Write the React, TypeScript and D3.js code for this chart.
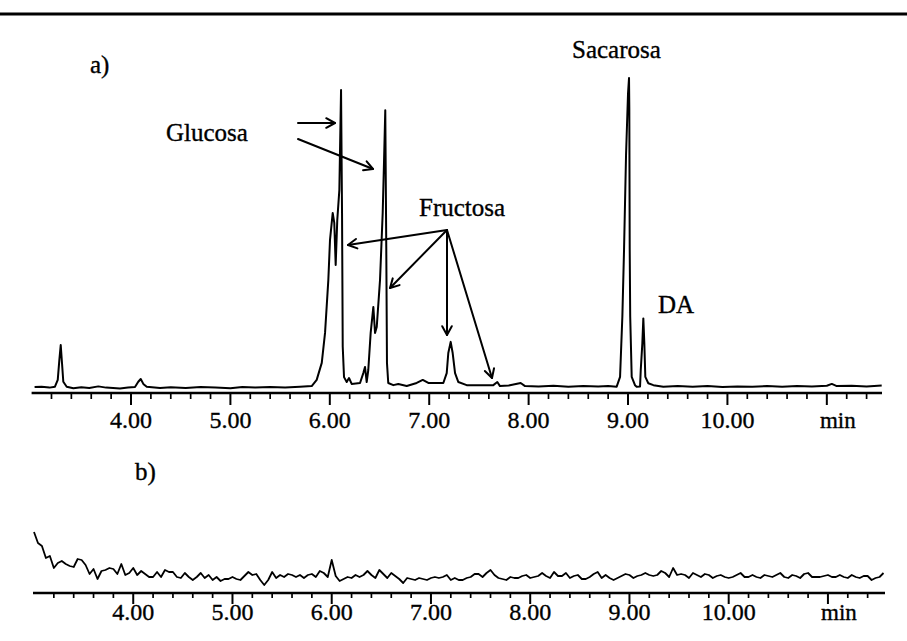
import React from "react";
import * as d3 from "d3";

// ---------- axis ticks ----------
const majorTicks = [4, 5, 6, 7, 8, 9, 10, 11];
const majorLabels = ["4.00", "5.00", "6.00", "7.00", "8.00", "9.00", "10.00", "min"];
const minorTicks = [3.2, 3.4, 3.6, 3.8, 4.2, 4.4, 4.6, 4.8, 5.2, 5.4, 5.6, 5.8, 6.2, 6.4, 6.6, 6.8, 7.2, 7.4, 7.6, 7.8, 8.2, 8.4, 8.6, 8.8, 9.2, 9.4, 9.6, 9.8, 10.2, 10.4, 10.6, 10.8, 11.2, 11.4];

// ---------- chromatogram a) : retention time (min) / signal (% of Sacarosa peak) ----------
const traceATime = [
  3.03, 3.10, 3.18, 3.235, 3.263, 3.279, 3.293, 3.306, 3.319, 3.353, 3.42, 3.50, 3.58, 3.671, 3.75, 3.889, 3.97,
  4.040, 4.073, 4.098, 4.124, 4.158, 4.292, 4.40, 4.55, 4.70, 4.85, 5.00, 5.12, 5.25, 5.40, 5.55, 5.70,
  5.818, 5.868, 5.919, 5.952, 5.985, 6.002, 6.029, 6.045, 6.059, 6.075, 6.096, 6.113, 6.123, 6.130, 6.143,
  6.170, 6.193, 6.220, 6.304, 6.337, 6.354, 6.371, 6.387, 6.411, 6.438, 6.455, 6.472, 6.505, 6.532, 6.545,
  6.558, 6.568, 6.575, 6.588, 6.639, 6.689, 6.774, 6.874, 6.935, 6.991, 7.142, 7.176, 7.192, 7.216, 7.236,
  7.260, 7.293, 7.377, 7.645, 7.685, 7.712, 7.80, 7.920, 7.964, 8.10, 8.25, 8.40, 8.55, 8.70, 8.80,
  8.886, 8.920, 8.943, 8.960, 8.980, 9.000, 9.010, 9.013, 9.017, 9.022, 9.037, 9.070, 9.087, 9.121, 9.128,
  9.144, 9.154, 9.164, 9.174, 9.204, 9.255, 9.355, 9.50, 9.65, 9.80, 9.95, 10.10, 10.25, 10.40, 10.55,
  10.70, 10.85, 11.00, 11.05, 11.10, 11.25, 11.40, 11.552,
];
const traceASignal = [
  0.0, 0.1, -0.2, 0.1, 2.3, 8.7, 13.6, 7.7, 1.7, 0.1, -0.4, -0.1, -0.3, 0.2, -0.2, -0.5, -0.2,
  0.0, 1.7, 2.6, 1.0, 0.1, -0.3, -0.1, -0.3, 0.0, -0.2, -0.4, 0.0, -0.2, 0.0, -0.2, 0.1,
  0.3, 2.3, 7.8, 17.5, 34.6, 47.6, 56.3, 53.1, 39.5, 54.0, 63.8, 96.1, 56.3, 13.0, 3.2,
  1.6, 2.9, 1.0, 1.3, 4.5, 6.5, 1.6, 5.5, 17.5, 25.9, 17.5, 19.4, 34.6, 56.3, 72.5,
  89.6, 45.3, 7.8, 1.3, 0.6, 1.0, 0.3, 1.3, 2.3, 1.3, 1.3, 4.5, 11.0, 14.6, 11.0,
  4.5, 1.6, 0.6, 0.6, 1.6, 0.3, 0.5, 1.3, 0.3, 0.2, 0.4, 0.1, 0.3, 0.2, 0.3,
  0.1, 3.3, 22.8, 44.5, 75, 95, 100, 90, 44.5, 22.8, 3.3, 0.6, 0.1, 0.2, 5.5,
  14.1, 22.2, 14.2, 3.3, 1.2, 0.6, 0.1, 0.3, 0.1, 0.3, 0.0, 0.2, 0.1, 0.3, 0.1,
  0.3, 0.2, 0.4, 1.0, 0.3, 0.4, 0.2, 0.5,
];

// ---------- blank b) : sampled every 0.04 min starting at 3.00 min ----------
const traceBStart = 3.0;
const traceBStep = 0.04;
const traceBSignal = [
  61, 50, 47, 35, 37, 25, 30, 32, 29, 27, 26, 34, 33, 28, 19, 24, 14, 22, 23, 25,
  24, 19, 29, 18, 20, 25, 18, 22, 19, 16, 16, 21, 16, 23, 21, 21, 16, 15, 20, 16,
  13, 16, 20, 15, 18, 13, 16, 12, 14, 14, 16, 14, 13, 17, 21, 18, 19, 13, 8, 13,
  21, 15, 18, 16, 19, 18, 16, 18, 15, 18, 19, 16, 22, 20, 16, 33, 17, 12, 14, 16,
  15, 18, 16, 18, 22, 18, 15, 23, 19, 15, 20, 17, 14, 10, 15, 14, 13, 15, 14, 13,
  15, 16, 15, 16, 18, 13, 15, 13, 13, 15, 16, 19, 19, 16, 20, 23, 18, 15, 14, 13,
  16, 15, 15, 17, 18, 15, 16, 17, 20, 17, 15, 21, 17, 17, 20, 15, 17, 18, 14, 14,
  16, 19, 21, 15, 18, 15, 13, 15, 17, 19, 18, 15, 17, 18, 20, 18, 17, 18, 22, 20,
  16, 25, 18, 19, 18, 15, 20, 18, 16, 19, 18, 15, 17, 18, 16, 15, 16, 18, 20, 16,
  16, 18, 16, 15, 18, 17, 16, 18, 20, 16, 15, 18, 17, 15, 19, 20, 16, 16, 16, 17,
  18, 16, 16, 18, 16, 15, 18, 16, 15, 17, 17, 13, 15, 16, 20,
];

// ---------- text ----------
const panelLabels = ["a)", "b)"];
const peakNames = ["Sacarosa", "Glucosa", "Fructosa", "DA"];

const W = 907;
const H = 641;
const FONT = "Liberation Serif";
const textStyle: React.CSSProperties = { fontFamily: '"Liberation Serif", "Times New Roman", Times, serif' };

function Label({ x, y, size = 25, anchor = "start", children }: { x: number; y: number; size?: number; anchor?: string; children: React.ReactNode }) {
  return (
    <text x={x} y={y} fontSize={size} textAnchor={anchor as any} fill="#000" stroke="#000" strokeWidth={0.35} style={textStyle}>
      {children}
    </text>
  );
}

function Arrow({ x1, y1, x2, y2 }: { x1: number; y1: number; x2: number; y2: number }) {
  const a = Math.atan2(y2 - y1, x2 - x1);
  const L = 10;
  const s = 0.5;
  const p1 = [x2 - L * Math.cos(a - s), y2 - L * Math.sin(a - s)];
  const p2 = [x2 - L * Math.cos(a + s), y2 - L * Math.sin(a + s)];
  return (
    <g stroke="#000" strokeWidth={2} fill="none" strokeLinecap="round" strokeLinejoin="round">
      <line x1={x1} y1={y1} x2={x2} y2={y2} />
      <polyline points={`${p1[0]},${p1[1]} ${x2},${y2} ${p2[0]},${p2[1]}`} />
    </g>
  );
}

function Axis({ x, y, labelY, minorLen, majorLen }: { x: d3.ScaleLinear<number, number>; y: number; labelY: number; minorLen: number; majorLen: number }) {
  const [r0, r1] = x.range();
  return (
    <g>
      <line x1={r0} x2={r1} y1={y} y2={y} stroke="#000" strokeWidth={2.4} />
      {minorTicks.map((t) => (
        <line key={"m" + t} x1={x(t)} x2={x(t)} y1={y} y2={y + minorLen} stroke="#000" strokeWidth={1.7} />
      ))}
      {majorTicks.map((t, i) => (
        <g key={"M" + t}>
          <line x1={x(t)} x2={x(t)} y1={y} y2={y + majorLen} stroke="#000" strokeWidth={2} />
          <Label x={x(t) + (majorLabels[i] === "min" ? 11 : 0)} y={labelY} size={majorLabels[i] === "min" ? 23 : 24} anchor="middle">
            {majorLabels[i]}
          </Label>
        </g>
      ))}
    </g>
  );
}

export default function App() {
  const xA = d3.scaleLinear().domain([3.0, 11.555]).range([31.6, 882]);
  const yA = d3.scaleLinear().domain([0, 100]).range([387, 78]);
  const xB = d3.scaleLinear().domain([2.99, 11.575]).range([33, 885]);
  const yB = d3.scaleLinear().domain([0, 60]).range([593, 533]);

  const ptsA: [number, number][] = traceATime.map((t, i) => [t, traceASignal[i]]);
  const ptsB: [number, number][] = traceBSignal.map((v, i) => [traceBStart + i * traceBStep, v]);

  const lineA = d3.line<[number, number]>().x((d) => xA(d[0])).y((d) => yA(d[1]));
  const lineB = d3.line<[number, number]>().x((d) => xB(d[0])).y((d) => yB(d[1]));

  return (
    <svg width={W} height={H} style={{ position: "absolute", left: 0, top: 0, background: "#fff" }} fontFamily={FONT}>
      <rect width={W} height={H} fill="#fff" />
      <line x1={0} x2={W} y1={14} y2={14} stroke="#000" strokeWidth={2.8} />

      {/* panel a */}
      <Label x={90} y={73}>{panelLabels[0]}</Label>
      <Label x={572} y={58}>{peakNames[0]}</Label>
      <Label x={166} y={141}>{peakNames[1]}</Label>
      <Label x={419} y={216}>{peakNames[2]}</Label>
      <Label x={658} y={313}>{peakNames[3]}</Label>

      <Arrow x1={298} y1={123} x2={335} y2={123} />
      <Arrow x1={298} y1={139} x2={373} y2={169} />
      <Arrow x1={447} y1={230} x2={348} y2={245} />
      <Arrow x1={447} y1={230} x2={390} y2={288} />
      <Arrow x1={447} y1={230} x2={447} y2={335} />
      <Arrow x1={447} y1={230} x2={492} y2={378} />

      <path d={lineA(ptsA) || ""} fill="none" stroke="#000" strokeWidth={2} strokeLinejoin="round" />
      <Axis x={xA} y={393} labelY={428} minorLen={6} majorLen={12} />

      {/* panel b */}
      <Label x={135} y={480}>{panelLabels[1]}</Label>
      <path d={lineB(ptsB) || ""} fill="none" stroke="#000" strokeWidth={1.8} strokeLinejoin="round" />
      <Axis x={xB} y={593} labelY={620} minorLen={5} majorLen={11} />
    </svg>
  );
}
